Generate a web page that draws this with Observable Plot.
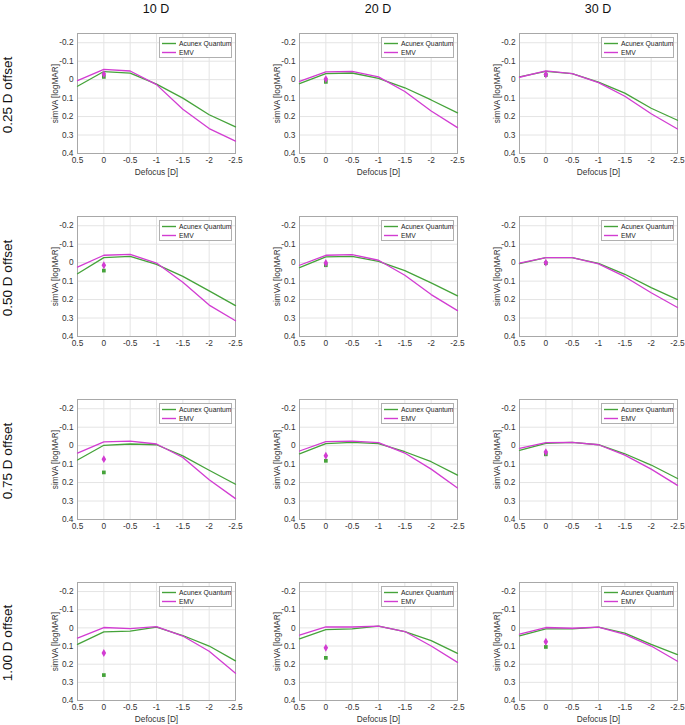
<!DOCTYPE html>
<html>
<head>
<meta charset="utf-8">
<script src="https://cdn.jsdelivr.net/npm/d3@7"></script>
<script src="https://cdn.jsdelivr.net/npm/@observablehq/plot@0.6"></script>
<style>
  body { margin: 0; background: #fff; font-family: "Liberation Sans", Arial, sans-serif; }
  #root { position: relative; width: 685px; height: 725px; overflow: hidden; background: #fff; }
  .panel { position: absolute; }
  .coltitle { position: absolute; top: 2px; width: 120px; text-align: center; font-size: 12.5px; color: #111; }
  .rowlabel { position: absolute; left: 7px; font-size: 13.5px; color: #111; white-space: nowrap;
              transform: translate(-50%, -50%) rotate(-90deg); }
  .legend { position: absolute; background: #fff; border: 1px solid #b0b0b0; box-sizing: border-box;
            font-size: 6.8px; color: #222; padding-top: 1px; white-space: nowrap; overflow: hidden; }
  .legend .row { display: flex; align-items: center; height: 9px; white-space: nowrap; }
  .legend svg { flex: 0 0 19px; display: block; }
  .legend .tx { flex: 0 0 auto; white-space: nowrap; }
</style>
</head>
<body>
<div id="root"></div>
<script>
// ---- data ----
const defocus = [0.5, 0, -0.5, -1, -1.5, -2, -2.5];
const powers = ["10 D", "20 D", "30 D"];
const offsets = ["0.25 D offset", "0.50 D offset", "0.75 D offset", "1.00 D offset"];
const seriesNames = ["Acunex Quantum", "EMV"];
const xTicks = [0.5, 0, -0.5, -1, -1.5, -2, -2.5];
const yTicks = [-0.2, -0.1, 0, 0.1, 0.2, 0.3, 0.4];

// simulated VA curves, per offset row: [10 D, 20 D, 30 D]
const acunex025 = [
  [0.036, -0.044, -0.035, 0.024, 0.100, 0.190, 0.256],
  [0.022, -0.033, -0.036, -0.007, 0.044, 0.110, 0.180],
  [-0.015, -0.045, -0.033, 0.013, 0.073, 0.155, 0.220]
];
const emv025 = [
  [0.005, -0.056, -0.047, 0.027, 0.160, 0.265, 0.333],
  [0.009, -0.042, -0.045, -0.015, 0.064, 0.170, 0.260],
  [-0.013, -0.047, -0.033, 0.016, 0.090, 0.185, 0.267]
];
const acunex050 = [
  [0.060, -0.027, -0.034, 0.009, 0.074, 0.153, 0.233],
  [0.027, -0.031, -0.034, -0.007, 0.043, 0.110, 0.180],
  [0.005, -0.027, -0.027, 0.004, 0.063, 0.135, 0.200]
];
const emv050 = [
  [0.024, -0.040, -0.045, 0.002, 0.106, 0.230, 0.315],
  [0.014, -0.040, -0.043, -0.013, 0.068, 0.173, 0.260],
  [0.003, -0.027, -0.027, 0.007, 0.076, 0.163, 0.243]
];
const acunex075 = [
  [0.078, -0.002, -0.009, -0.005, 0.055, 0.133, 0.209],
  [0.044, -0.011, -0.018, -0.011, 0.033, 0.087, 0.160],
  [0.025, -0.013, -0.018, -0.005, 0.044, 0.105, 0.178]
];
const emv075 = [
  [0.040, -0.020, -0.024, -0.009, 0.064, 0.185, 0.287],
  [0.029, -0.022, -0.024, -0.016, 0.040, 0.127, 0.229],
  [0.015, -0.016, -0.018, -0.005, 0.051, 0.127, 0.215]
];
const acunex100 = [
  [0.091, 0.022, 0.018, -0.004, 0.042, 0.100, 0.182],
  [0.060, 0.010, 0.005, -0.010, 0.020, 0.070, 0.140],
  [0.044, 0.005, 0.005, -0.004, 0.029, 0.091, 0.147]
];
const emv100 = [
  [0.056, -0.002, 0.004, -0.007, 0.045, 0.129, 0.250],
  [0.040, -0.005, -0.005, -0.010, 0.020, 0.100, 0.190],
  [0.035, -0.002, 0.002, -0.004, 0.036, 0.100, 0.184]
];
// single measured points at 0 D defocus: [10 D, 20 D, 30 D]
const acunexPoint = [
  [-0.015, 0.012, -0.025],
  [0.043, 0.014, 0.003],
  [0.145, 0.082, 0.047],
  [0.260, 0.165, 0.105]
];
const emvPoint = [
  [-0.030, -0.003, -0.028],
  [0.014, 0.002, 0.000],
  [0.073, 0.055, 0.035],
  [0.138, 0.110, 0.076]
];
const acunexRows = [acunex025, acunex050, acunex075, acunex100];
const emvRows = [emv025, emv050, emv075, emv100];

// ---- layout ----
const green = "#45a33a", magenta = "#d23cd2";
const colPlotLeft = [77, 299, 519];
const rowPlotTop = [33, 216, 399, 582];
const rowPlotH = [120, 120, 120, 118];
const mL = 57, mR = 6, mT = 8, mB = 24, plotW = 158;
const root = document.getElementById("root");
const fmt = d => String(d);

powers.forEach((p, c) => {
  const t = document.createElement("div");
  t.className = "coltitle";
  t.textContent = p;
  t.style.left = (colPlotLeft[c] + plotW / 2 - 60) + "px";
  root.appendChild(t);
});
offsets.forEach((o, r) => {
  const t = document.createElement("div");
  t.className = "rowlabel";
  t.textContent = o;
  t.style.top = (rowPlotTop[r] + rowPlotH[r] / 2 + 2) + "px";
  root.appendChild(t);
});

for (let r = 0; r < 4; r++) {
  for (let c = 0; c < 3; c++) {
    const aq = defocus.map((x, i) => ({x, y: acunexRows[r][c][i]}));
    const em = defocus.map((x, i) => ({x, y: emvRows[r][c][i]}));
    const showXLabel = (r === 0 || r === 3);
    const plotH = rowPlotH[r];
    const chart = Plot.plot({
      width: mL + plotW + mR,
      height: mT + plotH + mB,
      marginLeft: mL, marginRight: mR, marginTop: mT, marginBottom: mB,
      style: {background: "transparent", overflow: "visible", fontFamily: "Liberation Sans, Arial, sans-serif", color: "#333"},
      x: {domain: [0.5, -2.5]},
      y: {domain: [-0.25, 0.4], reverse: true},
      marks: [
        Plot.gridX(xTicks, {stroke: "#e4e4e4", strokeOpacity: 1}),
        Plot.gridY(yTicks, {stroke: "#e4e4e4", strokeOpacity: 1}),
        Plot.axisX({ticks: xTicks, tickFormat: fmt, tickSize: 0, tickPadding: 4, fontSize: 8.3,
                    label: showXLabel ? "Defocus [D]" : null, labelAnchor: "center", labelArrow: "none", labelOffset: 21}),
        Plot.axisY({ticks: yTicks, tickFormat: fmt, tickSize: 0, tickPadding: 4, fontSize: 8.3,
                    label: "simVA [logMAR]", labelAnchor: "center", labelArrow: "none", labelOffset: 25}),
        Plot.frame({stroke: "#a8a8a8"}),
        Plot.line(aq, {x: "x", y: "y", stroke: green, strokeWidth: 1.3}),
        Plot.line(em, {x: "x", y: "y", stroke: magenta, strokeWidth: 1.3}),
        Plot.dot([{x: 0, y: acunexPoint[r][c]}], {x: "x", y: "y", symbol: "square", fill: green, r: 2.1}),
        Plot.dot([{x: 0, y: emvPoint[r][c]}], {x: "x", y: "y", symbol: "diamond", fill: magenta, r: 2.4})
      ]
    });
    const panel = document.createElement("div");
    panel.className = "panel";
    panel.style.left = (colPlotLeft[c] - mL) + "px";
    panel.style.top = (rowPlotTop[r] - mT) + "px";
    panel.style.width = (mL + plotW + mR) + "px";
    panel.appendChild(chart);
    const lg = document.createElement("div");
    lg.className = "legend";
    lg.style.left = (mL + plotW - 76) + "px";
    lg.style.top = (mT + 4) + "px";
    lg.style.width = "73px";
    lg.style.height = "21px";
    [[seriesNames[0], green], [seriesNames[1], magenta]].forEach(([name, col]) => {
      const row = document.createElement("div");
      row.className = "row";
      const ns = "http://www.w3.org/2000/svg";
      const sw = document.createElementNS(ns, "svg");
      sw.setAttribute("width", "19");
      sw.setAttribute("height", "9");
      const ln = document.createElementNS(ns, "line");
      ln.setAttribute("x1", "2"); ln.setAttribute("x2", "16");
      ln.setAttribute("y1", "4.5"); ln.setAttribute("y2", "4.5");
      ln.setAttribute("stroke", col);
      ln.setAttribute("stroke-width", "1.4");
      sw.appendChild(ln);
      const tx = document.createElement("span");
      tx.className = "tx";
      tx.textContent = name;
      row.appendChild(sw); row.appendChild(tx);
      lg.appendChild(row);
    });
    panel.appendChild(lg);
    root.appendChild(panel);
  }
}
</script>
</body>
</html>
